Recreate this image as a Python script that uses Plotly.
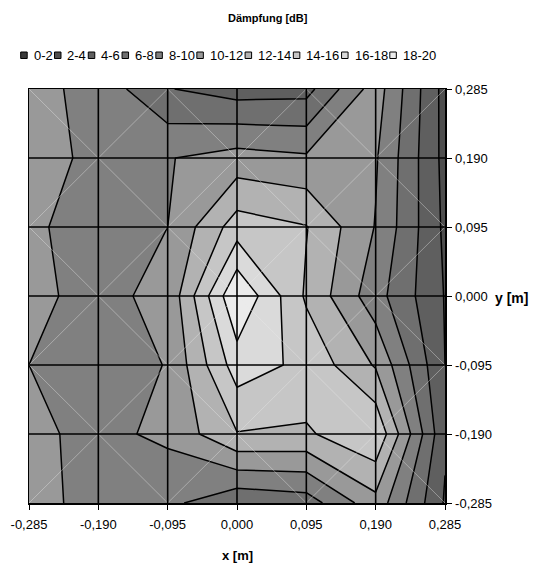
import plotly.graph_objects as go

# ---------------- data ----------------
x_m = [-0.285, -0.19, -0.095, 0.0, 0.095, 0.19, 0.285]
y_m = [-0.285, -0.19, -0.095, 0.0, 0.095, 0.19, 0.285]
tick_text = ["-0,285", "-0,190", "-0,095", "0,000", "0,095", "0,190", "0,285"]

# attenuation in dB, rows from y=-0.285 (bottom) to y=0.285 (top)
row_y_m285 = [10.6, 9.4, 8.5, 6.4, 7.0, 11.3, 3.8]
row_y_m190 = [10.4, 9.5, 10.4, 13.9, 13.7, 15.8, 4.3]
row_y_m095 = [10.0, 8.8, 10.1, 17.0, 15.5, 11.8, 4.0]
row_y_000 = [10.3, 9.6, 10.4, 19.9, 13.7, 8.8, 3.9]
row_y_095 = [10.4, 9.0, 10.0, 15.0, 14.1, 9.9, 3.6]
row_y_190 = [11.2, 9.3, 9.9, 10.8, 10.3, 10.2, 3.4]
row_y_285 = [10.7, 9.3, 6.1, 5.1, 5.3, 11.0, 3.3]
z_db = [row_y_m285, row_y_m190, row_y_m095, row_y_000, row_y_095, row_y_190, row_y_285]

band_labels = ["0-2", "2-4", "4-6", "6-8", "8-10", "10-12", "12-14", "14-16", "16-18", "18-20"]
band_colors = ["#3a3a3a", "#4e4e4e", "#5f5f5f", "#6f6f6f", "#808080",
               "#999999", "#b2b2b2", "#c6c6c6", "#dadada", "#ebebeb"]

# ---------------- geometry ----------------
W, H = 535, 566
PL, PT, PRt, PB = 29, 89, 445, 503  # plot box in page pixels
L, T, R, B = PL, PT, W - PRt, H - PB
PW, PH = PRt - PL, PB - PT
FONT = "Liberation Sans, Arial, sans-serif"


def px2x(px):
    return (px - PL) / PW


def py2y(py):
    return (PB - py) / PH


# colour slots used by plotly fill: below start, 10 bands, above end
slots = [band_colors[0]] + band_colors + [band_colors[-1]]
n = len(slots)
cscale = []
for k, c in enumerate(slots):
    lo = max(0.0, (k - 0.5) / (n - 1))
    hi = min(1.0, (k + 0.5) / (n - 1))
    cscale.append([lo, c])
    cscale.append([hi, c])

fig = go.Figure()
fig.add_trace(go.Contour(
    x=x_m, y=y_m, z=z_db,
    contours=dict(start=0, end=20, size=2, coloring="fill", showlines=True),
    line=dict(color="black", width=1.5, smoothing=0),
    colorscale=cscale, showscale=False, hoverinfo="skip",
))

shapes = []
# faint diagonals
for i in range(len(x_m) - 1):
    for j in range(len(y_m) - 1):
        if (i + j) % 2 == 0:
            x0, y0, x1, y1 = x_m[i], y_m[j], x_m[i + 1], y_m[j + 1]
        else:
            x0, y0, x1, y1 = x_m[i], y_m[j + 1], x_m[i + 1], y_m[j]
        shapes.append(dict(type="line", xref="x", yref="y", x0=x0, y0=y0, x1=x1, y1=y1,
                           line=dict(color="rgba(235,235,235,0.5)", width=0.8), layer="above"))
# grid lines on top
for xv in x_m[1:-1]:
    shapes.append(dict(type="line", xref="x", yref="y", x0=xv, x1=xv, y0=y_m[0], y1=y_m[-1],
                       line=dict(color="black", width=1.6), layer="above"))
for yv in y_m[1:-1]:
    shapes.append(dict(type="line", xref="x", yref="y", y0=yv, y1=yv, x0=x_m[0], x1=x_m[-1],
                       line=dict(color="black", width=1.6), layer="above"))

# custom legend
annotations = []
cx = 20.7
leg_y = 55
fs = 13


def text_w(s):
    w = 0.0
    for ch in s:
        w += 0.333 if ch == "-" else 0.556
    return w * fs


for lab, col in zip(band_labels, band_colors):
    shapes.append(dict(type="rect", xref="paper", yref="paper",
                       x0=px2x(cx), x1=px2x(cx + 6.5), y0=py2y(leg_y + 3.5), y1=py2y(leg_y - 3),
                       fillcolor=col, line=dict(color="black", width=1)))
    annotations.append(dict(text=lab, xref="paper", yref="paper", x=px2x(cx + 11), y=py2y(leg_y),
                            xanchor="left", yanchor="middle", showarrow=False,
                            font=dict(size=fs, color="black", family=FONT)))
    cx = cx + 11 + text_w(lab) + 4

annotations.append(dict(text="<b>Dämpfung [dB]</b>", xref="paper", yref="paper",
                        x=px2x(268), y=py2y(18), xanchor="center", yanchor="middle",
                        showarrow=False, font=dict(size=11, color="black", family=FONT)))
annotations.append(dict(text="<b>x [m]</b>", xref="paper", yref="paper",
                        x=px2x(237), y=py2y(555), xanchor="center", yanchor="middle",
                        showarrow=False, font=dict(size=13, color="black", family=FONT)))
annotations.append(dict(text="<b>y [m]</b>", xref="paper", yref="paper",
                        x=px2x(493), y=py2y(298), xanchor="left", yanchor="middle",
                        showarrow=False, font=dict(size=14, color="black", family=FONT)))

axis_common = dict(
    tickvals=x_m, ticktext=tick_text, showgrid=False, zeroline=False,
    showline=True, linecolor="black", linewidth=1.5, mirror=True,
    ticks="outside", ticklen=5, tickcolor="black", tickwidth=1, automargin=False,
    tickfont=dict(size=13, color="black", family=FONT),
)

fig.update_layout(
    width=W, height=H,
    margin=dict(l=L, r=R, t=T, b=B, pad=0, autoexpand=False),
    paper_bgcolor="white", plot_bgcolor="white",
    showlegend=False,
    xaxis=dict(range=[x_m[0], x_m[-1]], ticklabelstandoff=4, **axis_common),
    yaxis=dict(range=[y_m[0], y_m[-1]], side="right", ticklabelstandoff=1, **axis_common),
    shapes=shapes, annotations=annotations,
    font=dict(family=FONT, color="black"),
)

fig.write_html(
    "out.html",
    config={"displayModeBar": False, "staticPlot": True},
    post_script="document.body.style.margin='0';document.body.style.overflow='hidden';",
)
